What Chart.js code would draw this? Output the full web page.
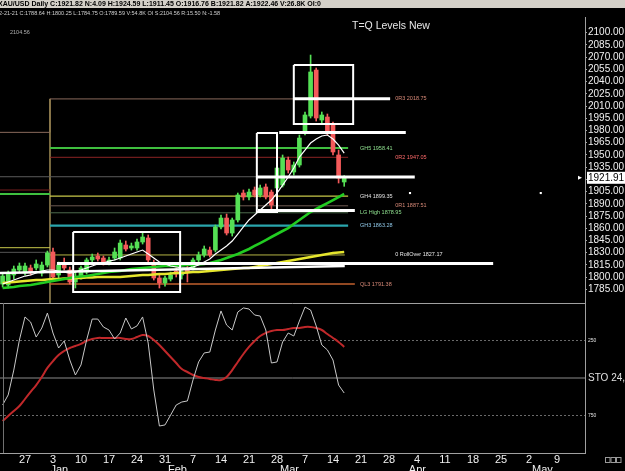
<!DOCTYPE html>
<html>
<head>
<meta charset="utf-8">
<script src="https://cdn.jsdelivr.net/npm/chart.js@4.4.0/dist/chart.umd.min.js"></script>
<style>
  html, body { margin: 0; padding: 0; background: #000; }
  #c { display: block; }
</style>
</head>
<body>
<canvas id="c" width="625" height="471"></canvas>
<script>
// one bar per trading day, bar 0 = Mon Dec 28
var firstBar = -4;

var openP  = [1791.5,1790.3,1802.6,1808.7,1805.0,1811.2,1811.2,1805.0,1814.8,1830.8,1802.6,1816.1,1808.7,1794.0,1801.3,1806.2,1821.0,1825.9,1823.4,1817.3,1823.4,1823.4,1839.4,1835.7,1835.7,1843.1,1848.0,1817.3,1798.9,1792.7,1797.6,1807.5,1802.6,1808.7,1811.2,1821.0,1827.1,1833.2,1833.2,1861.5,1872.5,1854.1,1870.1,1903.2,1898.3,1906.9,1900.8,1910.6,1904.4,1909.4,1913.0,1943.7,1929.0,1937.6,1978.1,1997.7,2054.2,1992.8,1996.5,1986.7,1949.9,1916.76];
var highP  = [1805.0,1807.5,1813.6,1817.3,1817.3,1814.8,1821.0,1818.5,1832.0,1835.7,1818.5,1823.4,1812.4,1805.0,1813.6,1823.4,1828.3,1829.6,1825.9,1824.7,1835.7,1845.5,1844.3,1841.8,1846.7,1855.3,1851.7,1821.0,1802.6,1801.3,1806.2,1811.2,1809.9,1813.6,1823.4,1830.8,1838.2,1836.9,1863.9,1876.2,1877.4,1872.5,1903.2,1906.9,1908.1,1910.6,1913.0,1914.3,1906.9,1937.6,1949.9,1947.4,1941.3,1974.4,2002.7,2072.6,2056.7,2002.7,2000.2,1990.4,1956.0,1924.59];
var lowP   = [1787.8,1786.6,1797.6,1806.2,1802.6,1802.6,1808.7,1801.3,1812.4,1797.6,1798.9,1808.7,1791.5,1786.6,1797.6,1803.8,1818.5,1819.7,1814.8,1814.8,1821.0,1821.0,1832.0,1833.2,1833.2,1840.6,1818.5,1796.4,1786.6,1789.0,1795.2,1800.1,1797.6,1794.0,1808.7,1818.5,1824.7,1824.7,1830.8,1859.0,1851.7,1850.4,1867.6,1894.6,1894.6,1898.3,1898.3,1895.9,1882.4,1906.9,1910.6,1927.8,1925.3,1935.1,1974.4,1995.3,1991.6,1989.1,1974.4,1949.9,1915.5,1911.45];
var closeP = [1801.3,1805.0,1809.9,1813.6,1813.6,1806.2,1816.1,1814.8,1829.6,1800.1,1814.8,1811.2,1794.0,1800.1,1811.2,1821.0,1824.7,1822.2,1818.5,1821.0,1830.8,1841.8,1834.5,1838.2,1843.1,1849.2,1821.0,1798.9,1792.7,1798.9,1802.6,1803.8,1806.2,1806.2,1821.0,1827.1,1834.5,1827.1,1861.5,1872.5,1854.1,1870.1,1900.8,1898.3,1904.4,1900.8,1909.4,1898.3,1888.5,1933.9,1946.2,1931.5,1937.6,1970.7,1999.0,2051.8,1995.3,1999.0,1976.9,1953.6,1921.6,1921.82];

var whiteMA  = [1791.5,1794.0,1796.4,1798.9,1801.3,1802.6,1805.0,1807.5,1808.7,1808.7,1807.5,1806.2,1805.0,1806.2,1808.7,1811.2,1813.6,1816.1,1817.3,1819.7,1821.0,1823.4,1825.9,1828.3,1830.8,1833.2,1828.3,1823.4,1818.5,1816.1,1813.6,1812.4,1811.2,1811.2,1812.4,1814.8,1818.5,1822.2,1828.3,1833.2,1838.2,1844.3,1852.9,1861.5,1870.1,1876.2,1882.4,1888.5,1894.6,1903.2,1913.0,1922.9,1933.9,1947.4,1956.0,1964.6,1969.5,1973.2,1974.4,1969.5,1962.1,1952.3];
var greenMA  = [1786.6,1787.2,1787.8,1789.0,1789.7,1790.3,1791.5,1792.7,1794.0,1795.2,1796.4,1797.6,1798.9,1800.1,1800.7,1801.3,1802.6,1803.8,1805.0,1806.2,1806.9,1807.5,1808.7,1809.9,1810.6,1811.2,1811.8,1812.4,1813.0,1813.6,1813.6,1813.6,1814.2,1814.8,1814.8,1815.5,1816.1,1817.3,1819.1,1821.0,1823.4,1825.9,1828.3,1831.4,1834.5,1838.2,1841.8,1845.5,1849.2,1852.9,1856.6,1860.2,1865.2,1870.1,1875.0,1879.9,1883.6,1887.3,1890.9,1894.6,1898.3,1902.0];
var yellowMA = [1792.7,1793.4,1794.0,1794.6,1795.2,1795.8,1796.4,1796.4,1797.0,1797.6,1797.6,1798.3,1798.3,1798.9,1798.9,1799.5,1799.5,1800.1,1800.1,1800.1,1800.1,1800.1,1800.7,1801.3,1802.0,1802.6,1802.6,1803.2,1803.8,1803.8,1804.4,1805.0,1805.0,1805.6,1806.2,1806.2,1806.9,1807.5,1808.1,1808.7,1809.3,1809.9,1810.6,1811.2,1811.2,1812.4,1813.6,1814.8,1816.1,1817.3,1818.5,1819.7,1821.0,1822.2,1823.4,1824.7,1825.9,1827.1,1828.3,1829.6,1830.2,1830.8];

var stochK = [680,613,447,247,93,127,227,167,67,200,300,253,380,480,413,247,107,107,160,180,240,200,100,173,153,93,267,580,820,813,747,680,660,653,513,393,333,327,180,53,147,180,60,33,40,80,87,180,400,393,260,200,220,120,27,47,153,280,313,380,547,600];
var stochD = [787,753,720,687,640,593,547,493,433,387,347,320,300,287,273,253,240,233,233,233,233,233,240,240,227,213,220,247,280,320,360,400,440,460,480,493,500,507,513,513,493,447,393,340,293,253,220,200,187,180,180,173,167,167,160,160,167,180,207,233,260,293];
var stochLevels = [250, 500, 750];
var stochLabels = ['250', 'STO 24,', '750'];

// pivot levels (this period) and previous period
var levelNames  = ['0R3 2018.75','GH5 1958.41','0R2 1947.05','GH4 1899.35','0R1 1887.51','LG High 1878.95','GH3 1863.28','0 RollOver 1827.17','QL3 1791.38'];
var levelValues = [2018.75,1958.41,1947.05,1899.35,1887.51,1878.95,1863.28,1827.17,1791.38];
var levelFrom   = [4.46,4.46,4.46,4.46,4.46,4.46,4.46,4.46,4.46];
var levelTo     = [65.2,57.7,57.7,57.7,57.7,57.7,57.7,57.1,58.9];
var prevLevels  = [1977.7,1906.9,1902.0,1836.1,1830.4];
var grayLevel   = 1923.2;

// drawn white lines and boxes
var whiteLevels = [2019.0,1977.5,1923.0,1881.8,1816.8];
var whiteFrom   = [47.9,45.4,41.4,41.6,5.7];
var whiteTo     = [65.2,68.0,69.6,58.9,83.6];
var boxFrom = [8.6,41.4,48.0], boxTo = [27.7,45.0,58.6];
var boxTop  = [1855.3,1976.9,2060.3], boxBot = [1781.7,1879.9,1987.9];
var dotBars = [68.75,92.1], dotPrices = [1903.2,1903.2];

var priceTicks = [2100,2085,2070,2055,2040,2025,2010,1995,1980,1965,1950,1935,1920,1905,1890,1875,1860,1845,1830,1815,1800,1785];
var weekLabels = ['27','3','10','17','24','31','7','14','21','28','7','14','21','28','4','11','18','25','2','9'];
var monthLabels = ['Jan','Feb','Mar','Apr','May'];
var monthFirstBar = [4,25,45,68,90];
var lastPrice = 1921.91;

// styles
var FONT = '"Liberation Sans", Arial, sans-serif';
var levelLineColors = ['#8a6a5c','#3fbf3f','#8c2424','#c8c84a','#6e5a52','#4d6b4d','#2aa6ad','#b5b545','#c2602e'];
var levelLineWidths = [1,2,1,1.2,1,1,2.2,1,1.5];
var levelTextColors = ['#d98a78','#8fe08f','#ff6a6a','#e0e0e0','#d98a78','#8fe08f','#8fc8e8','#e8e8e8','#d98a78'];
var levelTextAt = [66.1,59.8,66.1,59.8,66.1,59.8,59.8,66.1,59.8];
var prevLevelColors = ['#8a6a5c','#7a2020','#3fbf3f','#c8c84a','#555555'];

var bars = openP.map(function (v, k) { return firstBar + k; });
var upCol = '#55e055', dnCol = '#f45a5a';
var candleCol = bars.map(function (b, k) { return closeP[k] >= openP[k] ? upCol : dnCol; });

function pts(arr) { return arr.map(function (v, k) { return { x: bars[k], y: v }; }); }
function seg(x1, x2, v) { return [{ x: x1, y: v }, { x: x2, y: v }]; }
function lineDs(data, color, width, order, axis, extra) {
  var d = { type: 'line', data: data, borderColor: color, borderWidth: width, pointRadius: 0,
            tension: 0, order: order, yAxisID: axis || 'y', fill: false };
  for (var k in (extra || {})) d[k] = extra[k];
  return d;
}

var xMin = -4.464, xMax = 100;
var datasets = [];

// white drawn lines and boxes, on top
whiteLevels.forEach(function (v, k) {
  datasets.push(lineDs(seg(whiteFrom[k], whiteTo[k], v), '#ffffff', 3, 1));
});
datasets.push(lineDs([{ x: xMin, y: 1805.0 }, { x: 57.1, y: 1813.6 }], '#ffffff', 2.5, 1));
boxFrom.forEach(function (b, k) {
  datasets.push(lineDs([{ x: b, y: boxTop[k] }, { x: boxTo[k], y: boxTop[k] }, { x: boxTo[k], y: boxBot[k] },
                        { x: b, y: boxBot[k] }, { x: b, y: boxTop[k] }], '#ffffff', 2, 1));
});
datasets.push({ type: 'scatter', data: dotBars.map(function (b, k) { return { x: b, y: dotPrices[k] }; }),
  pointRadius: 1.5, pointStyle: 'rect', backgroundColor: '#fff', borderWidth: 0, order: 1, yAxisID: 'y' });

// moving averages
datasets.push(lineDs(pts(whiteMA), '#ffffff', 1.2, 2));
datasets.push(lineDs(pts(greenMA), '#22cc22', 2.6, 3));
datasets.push(lineDs(pts(yellowMA), '#e6e62e', 2.6, 4));

// candles
datasets.push({ type: 'bar', data: bars.map(function (b, k) { return { x: b, y: [openP[k], closeP[k]] }; }),
  backgroundColor: candleCol, barThickness: 4, grouped: false, order: 5, yAxisID: 'y' });
datasets.push({ type: 'bar', data: bars.map(function (b, k) { return { x: b, y: [lowP[k], highP[k]] }; }),
  backgroundColor: candleCol, barThickness: 1, grouped: false, order: 6, yAxisID: 'y' });

// level lines
levelValues.forEach(function (v, k) {
  datasets.push(lineDs(seg(levelFrom[k], levelTo[k], v), levelLineColors[k], levelLineWidths[k], 7));
});
prevLevels.forEach(function (v, k) {
  datasets.push(lineDs(seg(xMin, 4.46, v), prevLevelColors[k], k === 2 ? 2 : 1, 7));
});
datasets.push(lineDs(seg(xMin, 57.7, grayLevel), '#5c5c5c', 1, 7));
datasets.push(lineDs([{ x: 4.46, y: 2018.75 }, { x: 4.46, y: 1768.2 }], '#8a7a4a', 1, 7));
datasets.push(lineDs([{ x: 4.46, y: 2018.75 }, { x: 4.46, y: 1977.7 }], '#8a6a5c', 1, 7));

// stochastic pane
datasets.push(lineDs(pts(stochK), '#c8c8c8', 1, 1, 's'));
datasets.push(lineDs(pts(stochD), '#c0282a', 2, 2, 's', { tension: 0.4 }));
stochLevels.forEach(function (v, k) {
  datasets.push(lineDs(seg(xMin, xMax, v), k === 1 ? '#8a8a8a' : '#6a6a6a', 1, 9, 's',
    k === 1 ? {} : { borderDash: [2, 2] }));
});

var overlay = {
  id: 'overlay',
  afterLayout: function (chart) {
    // plot area runs from the left edge of the canvas
    var a = chart.chartArea, x = chart.scales.x;
    if (a.left !== 0) {
      a.left = 0; a.width = a.right;
      x.left = 0; x.width = a.right;
      x.configure();
    }
  },
  beforeDraw: function (chart) {
    var c = chart.ctx;
    c.save(); c.fillStyle = '#000'; c.fillRect(0, 0, chart.width, chart.height); c.restore();
  },
  afterDraw: function (chart) {
    var c = chart.ctx, a = chart.chartArea, x = chart.scales.x, y = chart.scales.y, s = chart.scales.s;
    c.save();
    // header rows
    c.fillStyle = '#d4d0c8'; c.fillRect(0, 0, chart.width, 8);
    c.fillStyle = '#000'; c.font = 'bold 7px ' + FONT; c.textBaseline = 'alphabetic';
    c.fillText('XAU/USD Daily C:1921.82 N:4.09 H:1924.59 L:1911.45 O:1916.76 B:1921.82 A:1922.46 V:26.8K OI:0', -2, 5.5);
    c.fillStyle = '#d0d0d0'; c.font = '5.5px ' + FONT;
    c.fillText('2-21-21 C:1788.64 H:1800.25 L:1784.75 O:1789.59 V:54.8K OI S:2104.56 R:15.50 N:-1.58', -1, 15);
    c.fillStyle = '#b0b0b0';
    c.fillText('2104.56', 10, 34);
    c.fillStyle = '#e6e6e6'; c.font = '10.5px ' + FONT;
    c.fillText('T=Q Levels New', 352, 29);

    // level labels
    c.font = '5.5px ' + FONT; c.textBaseline = 'middle';
    levelNames.forEach(function (n, k) {
      c.fillStyle = levelTextColors[k];
      c.fillText(n, x.getPixelForValue(levelTextAt[k]), y.getPixelForValue(levelValues[k]));
    });

    // pane separator and left edge of stochastic pane
    c.strokeStyle = '#a0a0a0'; c.lineWidth = 1;
    c.beginPath(); c.moveTo(0, s.top + 0.5); c.lineTo(a.right, s.top + 0.5); c.stroke();
    c.strokeStyle = '#707070';
    c.beginPath(); c.moveTo(3.5, s.top); c.lineTo(3.5, s.bottom); c.stroke();

    // last price marker
    var py = y.getPixelForValue(lastPrice);
    c.fillStyle = '#fff'; c.fillRect(a.right + 2, py - 6, 40, 12);
    c.beginPath(); c.moveTo(a.right - 7, py - 2); c.lineTo(a.right - 3, py); c.lineTo(a.right - 7, py + 2); c.fill();
    c.fillStyle = '#000'; c.font = '10px ' + FONT; c.textBaseline = 'middle';
    c.fillText(lastPrice.toFixed(2), a.right + 3, py + 0.5);

    // month labels
    c.fillStyle = '#f0f0f0'; c.font = '11px ' + FONT; c.textBaseline = 'top';
    monthLabels.forEach(function (m, k) {
      c.fillText(m, x.getPixelForValue(monthFirstBar[k]) + 3, 464);
    });

    // small boxes bottom right
    c.strokeStyle = '#9a9a9a';
    for (var i = 0; i < 3; i++) c.strokeRect(605.5 + i * 5.5, 457.5, 4.5, 5);
    c.restore();
  }
};

new Chart(document.getElementById('c'), {
  type: 'bar',
  data: { datasets: datasets },
  options: {
    responsive: false,
    animation: false,
    events: [],
    layout: { padding: { top: 17, left: 0, right: 0, bottom: 0 } },
    plugins: { legend: { display: false }, tooltip: { enabled: false } },
    scales: {
      x: {
        type: 'linear', min: xMin, max: xMax, bounds: 'data', offset: false,
        grid: { display: false, drawTicks: false },
        border: { color: '#a0a0a0' },
        afterBuildTicks: function (sc) { sc.ticks = weekLabels.map(function (l, k) { return { value: k * 5 }; }); },
        afterFit: function (sc) { sc.height = 18; sc.paddingLeft = 0; sc.paddingRight = 0; },
        ticks: {
          color: '#f0f0f0', font: { family: FONT, size: 11 }, padding: 0, maxRotation: 0, autoSkip: false,
          callback: function (v, k) { return weekLabels[k]; }
        }
      },
      y: {
        type: 'linear', position: 'right', stack: 'panes', stackWeight: 286,
        min: 1768.2, max: 2119.3, bounds: 'data',
        grid: { drawOnChartArea: false, tickLength: 2, tickColor: '#a0a0a0' },
        border: { color: '#a0a0a0' },
        afterBuildTicks: function (sc) { sc.ticks = priceTicks.map(function (v) { return { value: v }; }); },
        afterFit: function (sc) { sc.width = 40; },
        ticks: {
          color: '#f0f0f0', font: { family: FONT, size: 10 }, padding: 1, autoSkip: false,
          callback: function (v) { return Number(v).toFixed(2); }
        }
      },
      s: {
        type: 'linear', position: 'right', stack: 'panes', stackWeight: 150,
        min: 0, max: 1000, reverse: true, bounds: 'data',
        grid: { drawOnChartArea: false, drawTicks: false },
        border: { color: '#a0a0a0' },
        afterBuildTicks: function (sc) { sc.ticks = stochLevels.map(function (v) { return { value: v }; }); },
        afterFit: function (sc) { sc.width = 40; },
        ticks: {
          color: '#e0e0e0', padding: 3, autoSkip: false,
          font: function (ctx) { return { family: FONT, size: ctx.tick && ctx.tick.value === 500 ? 10 : 5 }; },
          callback: function (v, k) { return stochLabels[k]; }
        }
      }
    }
  },
  plugins: [overlay]
});
</script>
</body>
</html>
